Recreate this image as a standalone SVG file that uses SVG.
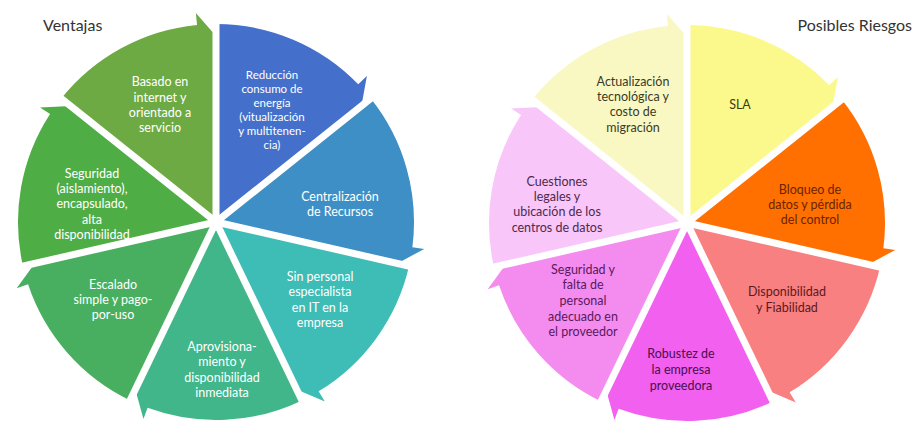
<svg xmlns="http://www.w3.org/2000/svg" width="915" height="425" viewBox="0 0 915 425">
<style>
text{font-family:Lato,"Liberation Sans","DejaVu Sans",sans-serif;font-size:12.5px;text-anchor:middle}
.w{fill:#ffffff}
.sm{font-size:11.5px}
.title{font-size:16px;fill:#333333}
.gap{stroke:#ffffff;stroke-width:7;stroke-linecap:butt}
</style>
<rect width="915" height="425" fill="#ffffff"/>
<text class="title" x="43" y="31" style="text-anchor:start">Ventajas</text>
<text class="title" x="912" y="31" style="text-anchor:end">Posibles Riesgos</text>

<g id="reduccion">
<path fill="#4470CB" d="M216,222 L216,24 A198,198 0 0 1 358.26,84.28 L366.88,75.93 L361.42,106.03 Z"/>
<text class="w sm"><tspan x="272" y="79">Reducción</tspan><tspan x="272" y="93">consumo de</tspan><tspan x="272" y="107">energía</tspan><tspan x="272" y="121">(vitualización</tspan><tspan x="272" y="135">y multitenen-</tspan><tspan x="272" y="149">cia)</tspan></text>
</g>
<g id="centralizacion">
<path fill="#3D8FC5" d="M216,222 L370.80,98.55 A198,198 0 0 1 412.37,247.35 L424.27,248.89 L397.34,263.39 Z"/>
<text class="w"><tspan x="340" y="201">Centralización</tspan><tspan x="340" y="216">de Recursos</tspan></text>
</g>
<g id="sinpersonal">
<path fill="#3EBCB6" d="M216,222 L409.04,266.06 A198,198 0 0 1 318.61,391.34 L324.83,401.60 L296.70,389.58 Z"/>
<text class="w"><tspan x="320" y="281">Sin personal</tspan><tspan x="320" y="296">especialista</tspan><tspan x="320" y="312">en IT en la</tspan><tspan x="320" y="327">empresa</tspan></text>
</g>
<g id="aprovisionamiento">
<path fill="#40B68A" d="M216,222 L301.91,400.39 A198,198 0 0 1 147.59,407.81 L143.44,419.07 L135.30,389.58 Z"/>
<text class="w"><tspan x="222" y="351">Aprovisiona-</tspan><tspan x="222" y="366">miento y</tspan><tspan x="222" y="382">disponibilidad</tspan><tspan x="222" y="397">inmediata</tspan></text>
</g>
<g id="escalado">
<path fill="#48AF60" d="M216,222 L130.09,400.39 A198,198 0 0 1 28.07,284.36 L16.68,288.14 L34.66,263.39 Z"/>
<text class="w"><tspan x="113" y="289">Escalado</tspan><tspan x="113" y="304">simple y pago-</tspan><tspan x="113" y="319">por-uso</tspan></text>
</g>
<g id="seguridad">
<path fill="#4FAD46" d="M216,222 L22.96,266.06 A198,198 0 0 1 50.08,113.96 L40.02,107.41 L70.58,106.03 Z"/>
<text class="w"><tspan x="92" y="178">Seguridad</tspan><tspan x="92" y="193">(aislamiento),</tspan><tspan x="92" y="208">encapsulado,</tspan><tspan x="92" y="224">alta</tspan><tspan x="92" y="239">disponibilidad</tspan></text>
</g>
<g id="basado">
<path fill="#6EAA44" d="M216,222 L61.20,98.55 A198,198 0 0 1 197.02,24.91 L195.87,12.97 L216,36 Z"/>
<text class="w"><tspan x="160" y="86">Basado en</tspan><tspan x="160" y="102">internet y</tspan><tspan x="160" y="117">orientado a</tspan><tspan x="160" y="132">servicio</tspan></text>
</g>

<g id="sla">
<path fill="#FBF98C" d="M687,223 L687,25 A198,198 0 0 1 829.26,85.28 L837.88,76.93 L832.42,107.03 Z"/>
<text fill="#3A3A18"><tspan x="740" y="109">SLA</tspan></text>
</g>
<g id="bloqueo">
<path fill="#FF7000" d="M687,223 L841.80,99.55 A198,198 0 0 1 883.37,248.35 L895.27,249.89 L868.34,264.39 Z"/>
<text fill="#6A2400"><tspan x="810" y="194">Bloqueo de</tspan><tspan x="810" y="209">datos y pérdida</tspan><tspan x="810" y="224">del control</tspan></text>
</g>
<g id="disponibilidad">
<path fill="#F88080" d="M687,223 L880.04,267.06 A198,198 0 0 1 789.61,392.34 L795.83,402.60 L767.70,390.58 Z"/>
<text fill="#5E1A1E"><tspan x="787" y="296">Disponibilidad</tspan><tspan x="787" y="312">y Fiabilidad</tspan></text>
</g>
<g id="robustez">
<path fill="#F260F0" d="M687,223 L772.91,401.39 A198,198 0 0 1 618.59,408.81 L614.44,420.07 L606.30,390.58 Z"/>
<text fill="#4A0E4C"><tspan x="681" y="358">Robustez de</tspan><tspan x="681" y="374">la empresa</tspan><tspan x="681" y="390">proveedora</tspan></text>
</g>
<g id="seguridadyfalta">
<path fill="#F48CEF" d="M687,223 L601.09,401.39 A198,198 0 0 1 499.07,285.36 L487.68,289.14 L505.66,264.39 Z"/>
<text fill="#591A5C"><tspan x="583" y="274">Seguridad y</tspan><tspan x="583" y="289">falta de</tspan><tspan x="583" y="305">personal</tspan><tspan x="583" y="321">adecuado en</tspan><tspan x="583" y="336">el proveedor</tspan></text>
</g>
<g id="cuestiones">
<path fill="#F9C6F9" d="M687,223 L493.96,267.06 A198,198 0 0 1 521.08,114.96 L511.02,108.41 L541.58,107.03 Z"/>
<text fill="#4C2A4E"><tspan x="557" y="186">Cuestiones</tspan><tspan x="557" y="201">legales y</tspan><tspan x="557" y="216">ubicación de los</tspan><tspan x="557" y="232">centros de datos</tspan></text>
</g>
<g id="actualizacion">
<path fill="#F9F8C2" d="M687,223 L532.20,99.55 A198,198 0 0 1 668.02,25.91 L666.87,13.97 L687,37 Z"/>
<text fill="#3A3A2A"><tspan x="633" y="86">Actualización</tspan><tspan x="633" y="101">tecnológica y</tspan><tspan x="633" y="116">costo de</tspan><tspan x="633" y="132">migración</tspan></text>
</g>

<g id="connectors" class="gap">
<line x1="216" y1="222" x2="216" y2="4"/>
<line x1="216" y1="222" x2="388.0" y2="84.8"/>
<line x1="216" y1="222" x2="430.5" y2="271.0"/>
<line x1="216" y1="222" x2="311.5" y2="420.2"/>
<line x1="216" y1="222" x2="120.5" y2="420.2"/>
<line x1="216" y1="222" x2="1.5" y2="271.0"/>
<line x1="216" y1="222" x2="44.0" y2="84.8"/>
<line x1="687" y1="223" x2="687" y2="5"/>
<line x1="687" y1="223" x2="859.0" y2="85.8"/>
<line x1="687" y1="223" x2="901.5" y2="272.0"/>
<line x1="687" y1="223" x2="782.5" y2="421.2"/>
<line x1="687" y1="223" x2="591.5" y2="421.2"/>
<line x1="687" y1="223" x2="472.5" y2="272.0"/>
<line x1="687" y1="223" x2="515.0" y2="85.8"/>
</g>
</svg>
